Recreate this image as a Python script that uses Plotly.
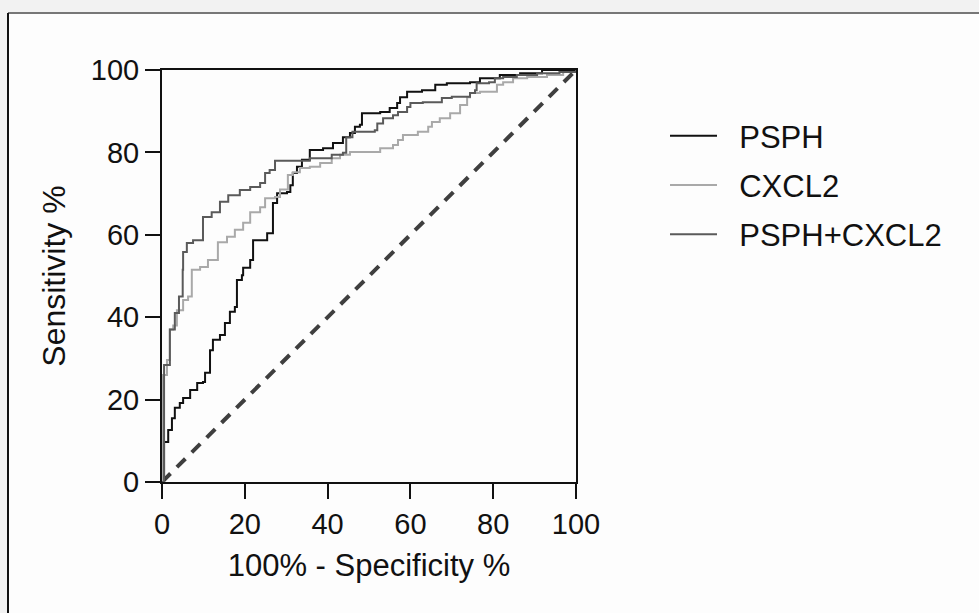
import plotly.graph_objects as go

# ---- data ----
psph_x = [0, 0.5, 1.5, 2.4, 3.1, 4.3, 5.1, 6.8, 8.5, 9.9, 10.4, 11.6, 12.3, 14, 15.2, 16.4, 17.6, 18.1, 19.3, 19.6,
          21.3, 22, 25.4, 26.8, 27.8, 30.2, 31, 31.6, 32.6, 33.8, 35.7, 38.9, 41.3, 43.7, 45.4, 46.6, 47.8, 48.3, 52.7, 55,
          56.8, 57.5, 59.2, 62.8, 66, 68.8, 74.4, 76.8, 81.6, 86.5, 91.8, 100]
psph_y = [0, 9.7, 12.6, 15.5, 18, 19.2, 20.4, 22.3, 24, 24.3, 26.5, 32, 34.5, 35.7, 38.6, 41.3, 42.5, 49, 50.2, 52,
          53.9, 58.7, 60.4, 67.7, 70.1, 70.4, 72, 75, 76.5, 78.2, 80.6, 81, 82.3, 83.7, 84.7, 86.2, 86.7, 89.5, 89.8, 90.8,
          92, 93.4, 94.7, 95.1, 96.4, 96.8, 97, 98, 98.8, 99.2, 100, 100]

cxcl2_x = [0, 0.2, 0.7, 1.2, 1.9, 2.7, 3.6, 5.1, 6.3, 7.2, 9.2, 11.1, 13.5, 15.7, 17.6, 19.6, 21.3, 23.7, 24.9, 27.3,
           28.5, 30.4, 31.6, 33.3, 35.7, 38.2, 41, 43, 45.4, 52.7, 55.8, 57, 58.2, 61.8, 64.3, 65.2, 67.1, 69.6, 72, 73.7,
           74.4, 76.8, 80.9, 82.4, 84.8, 88.2, 93, 96.9, 100]
cxcl2_y = [0, 26, 26, 29.6, 37, 38, 41.7, 44.2, 45, 51.5, 52.2, 53.9, 58.2, 59.5, 61.2, 62.9, 65.5, 66.7, 68.9, 69.2,
           71, 74.5, 75.2, 76.2, 76.5, 77.4, 78.6, 79.4, 80.1, 81, 81.8, 83, 84.2, 85, 86.2, 87.4, 88.3, 89.5, 91.5, 93.4,
           94.4, 94.7, 96.4, 97, 98, 98.3, 98.8, 99.5, 100]

combo_x = [0, 0.5, 1.9, 3.1, 4.1, 5, 5.1, 6, 7.5, 9.9, 12, 14, 16, 18.8, 21.3, 23.7, 24.9, 26, 27.3, 35.7,
           41, 43.7, 44.5, 46, 51.4, 52, 53.4, 55.8, 57, 59.2, 60, 63, 67.6, 70, 74.4, 75.6, 76, 79, 80.4, 82.4,
           85.7, 90.6, 96, 100]
combo_y = [0, 28.4, 37, 41, 45, 51.5, 55.8, 58, 58.7, 64.3, 65.5, 68, 69.6, 70.9, 71.6, 72.6, 75, 75.7, 78, 78.6,
           79.4, 79.9, 83.7, 85, 85.4, 87, 88.3, 89, 89.8, 91, 92, 92.2, 93.2, 93.5, 94.4, 95.1, 96.8, 97, 98, 98.3,
           98.8, 99.2, 99.5, 100]

ref_x = [0, 100]
ref_y = [0, 100]

series_names = ["PSPH", "CXCL2", "PSPH+CXCL2"]
x_ticks = [0, 20, 40, 60, 80, 100]
y_ticks = [0, 20, 40, 60, 80, 100]

FONT = "Liberation Sans, Arial, sans-serif"
GAP = "\u00a0\u00a0"  # visual gap between legend line and label

fig = go.Figure()

fig.add_trace(go.Scatter(x=ref_x, y=ref_y, mode="lines", showlegend=False, hoverinfo="skip",
                         line=dict(color="#3f3f3f", width=4, dash="12px,9px")))

fig.add_trace(go.Scatter(x=psph_x, y=psph_y, mode="lines", name=GAP + series_names[0], legendgroup="a",
                         line=dict(color="#111111", width=2, shape="hv")))
fig.add_trace(go.Scatter(x=cxcl2_x, y=cxcl2_y, mode="lines", name=GAP + series_names[1], legendgroup="b",
                         line=dict(color="#a9a9a9", width=2, shape="hv")))
fig.add_trace(go.Scatter(x=combo_x, y=combo_y, mode="lines", name=GAP + series_names[2], legendgroup="c",
                         line=dict(color="#5a5a5a", width=2, shape="hv")))

# outer white panel with borders (reference frame)
L, R, T, B = 162, 576, 70, 482
def px_x(p):
    return (p - L) / (R - L)
def px_y(p):
    return (B - p) / (B - T)

fig.add_shape(type="rect", xref="paper", yref="paper", x0=px_x(8), x1=px_x(985), y0=px_y(620), y1=px_y(13),
              fillcolor="#fdfdfd", line=dict(width=0), layer="below")
fig.add_shape(type="line", xref="paper", yref="paper", x0=px_x(8), x1=px_x(985), y0=px_y(13), y1=px_y(13),
              line=dict(color="#777777", width=2), layer="below")
fig.add_shape(type="line", xref="paper", yref="paper", x0=px_x(8), x1=px_x(8), y0=px_y(620), y1=px_y(13),
              line=dict(color="#111111", width=2), layer="below")

axis_common = dict(range=[0, 100], showgrid=False, zeroline=False, showline=True, linecolor="#111111",
                   linewidth=2, mirror=True, ticks="outside", ticklen=15, tickwidth=2, tickcolor="#111111",
                   tickfont=dict(family=FONT, size=29, color="#111111"))

fig.update_layout(
    width=979, height=613,
    margin=dict(l=L, r=979 - R, t=T, b=613 - B),
    paper_bgcolor="#f2f2f2", plot_bgcolor="#ffffff",
    font=dict(family=FONT, color="#111111"),
    xaxis=dict(**axis_common, tickvals=x_ticks,
               title=dict(text="100% - Specificity %", font=dict(family=FONT, size=31), standoff=16)),
    yaxis=dict(**axis_common, tickvals=y_ticks,
               title=dict(text="Sensitivity %", font=dict(family=FONT, size=32), standoff=16)),
    legend=dict(x=px_x(665), y=px_y(109), xanchor="left", yanchor="top", bgcolor="rgba(0,0,0,0)",
                font=dict(family=FONT, size=31, color="#111111"), tracegroupgap=6, traceorder="grouped",
                itemwidth=47),
)

fig.write_html("out.html", post_script="document.body.style.margin='0';",
               config={"displayModeBar": False})
